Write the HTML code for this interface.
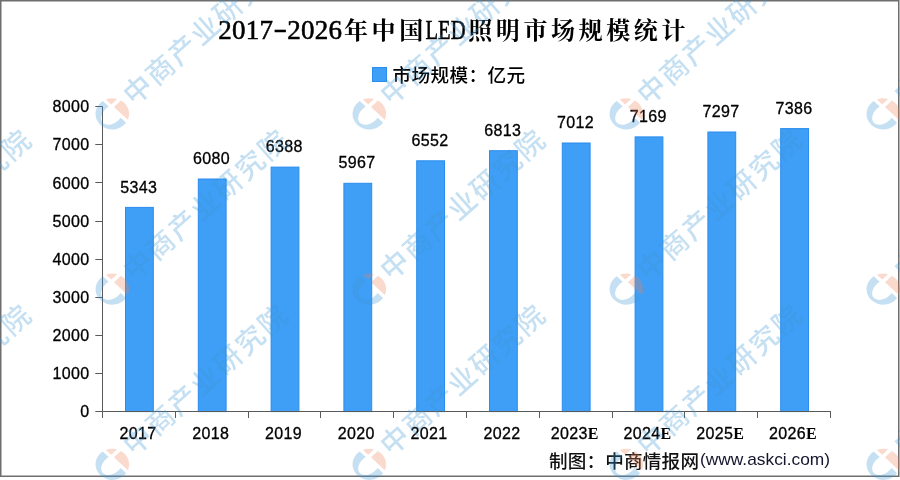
<!DOCTYPE html>
<html lang="zh-CN"><head><meta charset="utf-8"><title>2017-2026年中国LED照明市场规模统计</title>
<style>html,body{margin:0;padding:0;background:#fff;}body{width:900px;height:480px;overflow:hidden;}svg{display:block;}.ax{font-family:"Liberation Sans","Noto Sans CJK SC",sans-serif;font-size:16px;letter-spacing:0.35px;fill:#000;stroke:#000;stroke-width:0.3px;}.se{font-family:"Liberation Serif",serif;font-size:16px;font-weight:700;stroke:none;}.ttl{font-family:"Liberation Serif","Noto Serif CJK SC",serif;font-weight:700;font-size:24px;fill:#000;}.tl{font-size:27px;font-weight:400;stroke:#000;stroke-width:0.55px;}.tc{font-weight:700;}.lg{font-family:"Liberation Sans","Noto Sans CJK SC",sans-serif;font-size:18.6px;font-weight:500;fill:#000;}.ft{font-family:"Liberation Sans","Noto Sans CJK SC",sans-serif;font-size:18.6px;font-weight:500;fill:#111;}.wm{font-family:"Liberation Sans","Noto Sans CJK SC",sans-serif;font-weight:500;font-size:28px;letter-spacing:2.1px;fill:#3c96d2;}</style></head><body>
<svg width="900" height="480" viewBox="0 0 900 480">
<defs>
<g id="logo"><g transform="scale(1.075,1) rotate(45)"><path fill="#3c96d2" d="M15.35,-2.80 A15.6,15.6 0 1 1 -15.35,-2.80 L-7.60,-2.80 A8.2,12.0 0 1 0 8.20,-2.80 Z"/><path fill="#f0825a" d="M-14.40,-6.00 A15.6,15.6 0 0 1 -7.40,-13.73 L-7.40,-6.00 Z"/><path fill="#f0825a" d="M-3.80,-6.00 L-3.80,-15.13 A15.6,15.6 0 0 1 14.40,-6.00 Z"/></g></g>
<g id="wm"><use href="#logo"/><g transform="rotate(-41.6)"><text class="wm" x="21.0" y="8.9">中商产业研究院</text></g></g>
</defs>
<rect x="0" y="0" width="900" height="480" fill="#fff"/>
<rect x="0.75" y="0.75" width="898" height="475.5" fill="#fff" stroke="#6e6e6e" stroke-width="1.5"/>
<rect x="125.5" y="207.4" width="27.8" height="204.2" fill="#3f9ef5" stroke="#2a8cee" stroke-width="1"/>
<rect x="198.3" y="179.0" width="27.8" height="232.6" fill="#3f9ef5" stroke="#2a8cee" stroke-width="1"/>
<rect x="271.1" y="167.1" width="27.8" height="244.5" fill="#3f9ef5" stroke="#2a8cee" stroke-width="1"/>
<rect x="343.9" y="183.3" width="27.8" height="228.3" fill="#3f9ef5" stroke="#2a8cee" stroke-width="1"/>
<rect x="416.7" y="160.8" width="27.8" height="250.8" fill="#3f9ef5" stroke="#2a8cee" stroke-width="1"/>
<rect x="489.5" y="150.7" width="27.8" height="260.9" fill="#3f9ef5" stroke="#2a8cee" stroke-width="1"/>
<rect x="562.3" y="143.0" width="27.8" height="268.6" fill="#3f9ef5" stroke="#2a8cee" stroke-width="1"/>
<rect x="635.1" y="136.9" width="27.8" height="274.7" fill="#3f9ef5" stroke="#2a8cee" stroke-width="1"/>
<rect x="707.9" y="132.0" width="27.8" height="279.6" fill="#3f9ef5" stroke="#2a8cee" stroke-width="1"/>
<rect x="780.7" y="128.6" width="27.8" height="283.0" fill="#3f9ef5" stroke="#2a8cee" stroke-width="1"/>
<g stroke="#5a5a5a" stroke-width="1" fill="none">
<path d="M102.5,106.5 V411.5 H831"/>
<path d="M95.3,411.5 H102.5"/>
<path d="M95.3,373.5 H102.5"/>
<path d="M95.3,335.5 H102.5"/>
<path d="M95.3,297.5 H102.5"/>
<path d="M95.3,259.5 H102.5"/>
<path d="M95.3,221.5 H102.5"/>
<path d="M95.3,182.5 H102.5"/>
<path d="M95.3,144.5 H102.5"/>
<path d="M95.3,106.5 H102.5"/>
<path d="M102.5,411.5 V418"/>
<path d="M175.5,411.5 V418"/>
<path d="M248.5,411.5 V418"/>
<path d="M320.5,411.5 V418"/>
<path d="M393.5,411.5 V418"/>
<path d="M466.5,411.5 V418"/>
<path d="M539.5,411.5 V418"/>
<path d="M612.5,411.5 V418"/>
<path d="M684.5,411.5 V418"/>
<path d="M757.5,411.5 V418"/>
<path d="M830.5,411.5 V418"/>
</g>
<text class="ax" text-anchor="end" x="89.6" y="417.2">0</text>
<text class="ax" text-anchor="end" x="89.6" y="379.1">1000</text>
<text class="ax" text-anchor="end" x="89.6" y="341.0">2000</text>
<text class="ax" text-anchor="end" x="89.6" y="302.9">3000</text>
<text class="ax" text-anchor="end" x="89.6" y="264.8">4000</text>
<text class="ax" text-anchor="end" x="89.6" y="226.6">5000</text>
<text class="ax" text-anchor="end" x="89.6" y="188.5">6000</text>
<text class="ax" text-anchor="end" x="89.6" y="150.4">7000</text>
<text class="ax" text-anchor="end" x="89.6" y="112.3">8000</text>
<text class="ax" text-anchor="middle" x="137.9" y="438.8">2017</text>
<text class="ax" text-anchor="middle" x="210.7" y="438.8">2018</text>
<text class="ax" text-anchor="middle" x="283.5" y="438.8">2019</text>
<text class="ax" text-anchor="middle" x="356.3" y="438.8">2020</text>
<text class="ax" text-anchor="middle" x="429.1" y="438.8">2021</text>
<text class="ax" text-anchor="middle" x="501.9" y="438.8">2022</text>
<text class="ax" text-anchor="middle" x="574.7" y="438.8">2023<tspan class="se">E</tspan></text>
<text class="ax" text-anchor="middle" x="647.5" y="438.8">2024<tspan class="se">E</tspan></text>
<text class="ax" text-anchor="middle" x="720.3" y="438.8">2025<tspan class="se">E</tspan></text>
<text class="ax" text-anchor="middle" x="793.1" y="438.8">2026<tspan class="se">E</tspan></text>
<text class="ax" text-anchor="middle" x="138.7" y="192.5">5343</text>
<text class="ax" text-anchor="middle" x="211.5" y="164.1">6080</text>
<text class="ax" text-anchor="middle" x="284.3" y="152.2">6388</text>
<text class="ax" text-anchor="middle" x="357.1" y="168.4">5967</text>
<text class="ax" text-anchor="middle" x="429.9" y="145.9">6552</text>
<text class="ax" text-anchor="middle" x="502.7" y="135.8">6813</text>
<text class="ax" text-anchor="middle" x="575.5" y="128.1">7012</text>
<text class="ax" text-anchor="middle" x="648.3" y="122.0">7169</text>
<text class="ax" text-anchor="middle" x="721.1" y="117.1">7297</text>
<text class="ax" text-anchor="middle" x="793.9" y="113.7">7386</text>
<text class="ttl" text-anchor="middle"><tspan class="tl" x="224.9 238.7 252.5 266.3" y="39">2017</tspan><tspan class="tl" text-anchor="start" x="273.4" y="37.2" textLength="13.4" lengthAdjust="spacingAndGlyphs">-</tspan><tspan class="tl" x="293.9 307.7 321.5 335.3" y="39">2026</tspan><tspan class="tc" x="356.0 383.6 411.2" y="38.6">年中国</tspan><tspan class="tl" text-anchor="start" x="425.5" y="39" textLength="40" lengthAdjust="spacingAndGlyphs">LED</tspan><tspan class="tc" x="480.2 507.8 535.4 563.0 590.6 618.2 645.8 673.4" y="38.6">照明市场规模统计</tspan></text>
<rect x="372.5" y="67.5" width="14" height="14" fill="#3f9ef5" stroke="#2a8cee" stroke-width="1"/>
<text class="lg" x="392.6" y="81.6" textLength="132.4" lengthAdjust="spacing">市场规模：亿元</text>
<text class="ft" x="549" y="467.6" textLength="150" lengthAdjust="spacing">制图：中商情报网</text>
<text class="ft" x="700" y="464.8" textLength="130" lengthAdjust="spacingAndGlyphs" style="font-weight:400;font-size:17px;fill:#15152e">(www.askci.com)</text>
<g opacity="0.3">
<use href="#wm" x="-144.7" y="113.9"/>
<use href="#wm" x="112.3" y="113.9"/>
<use href="#wm" x="369.3" y="113.9"/>
<use href="#wm" x="626.3" y="113.9"/>
<use href="#wm" x="883.3" y="113.9"/>
<use href="#wm" x="-144.7" y="289.1"/>
<use href="#wm" x="112.3" y="289.1"/>
<use href="#wm" x="369.3" y="289.1"/>
<use href="#wm" x="626.3" y="289.1"/>
<use href="#wm" x="883.3" y="289.1"/>
<use href="#wm" x="-144.7" y="464.3"/>
<use href="#wm" x="112.3" y="464.3"/>
<use href="#wm" x="369.3" y="464.3"/>
<use href="#wm" x="626.3" y="464.3"/>
<use href="#wm" x="883.3" y="464.3"/>
</g>
</svg></body></html>
